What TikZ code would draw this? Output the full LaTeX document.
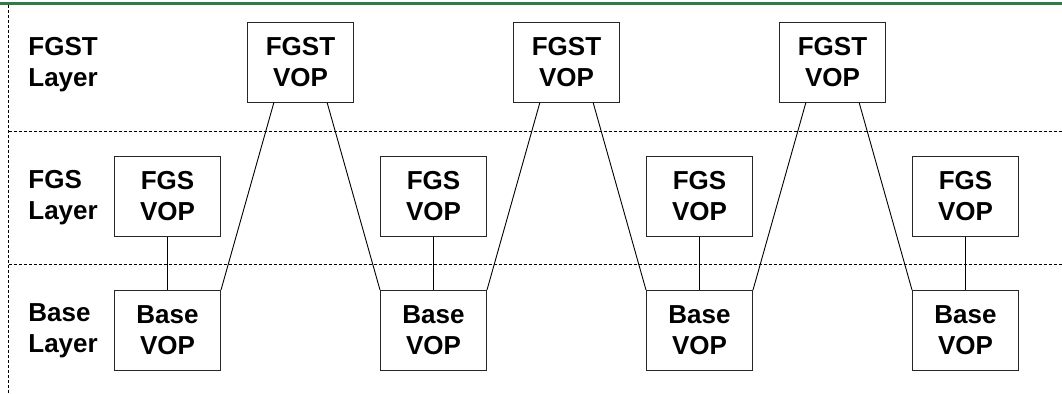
\documentclass[tikz,border=0pt]{standalone}
\usepackage{fontspec}
\setmainfont{Liberation Sans}
\usetikzlibrary{positioning,calc}
\definecolor{rulegreen}{RGB}{46,125,68}
\begin{document}
\begin{tikzpicture}[vop/.style = {draw=black!85, line width=0.5pt, fill=white, minimum width=53pt, minimum height=40pt, inner sep=0pt, align=center, font=\bfseries\fontsize{13}{15.5}\selectfont},
    layer/.style = {anchor=west, inner sep=0pt, align=left, font=\bfseries\fontsize{13}{15.5}\selectfont},
    divider/.style = {line width=0.4pt, dash pattern=on 1.5pt off 1pt},
    link/.style = {line width=0.45pt},
    node distance=26.5pt and 79.5pt]
    \useasboundingbox (0,0) rectangle (531pt,197pt);
    % rules between the layers
    \draw[rulegreen, line width=1.35pt] (0,195.4pt) -- (531pt,195.4pt);
    \draw[divider] (4.25pt,194.5pt) -- (4.25pt,0);
    \draw[divider] (4.25pt,131.5pt) -- (531pt,131.5pt);
    \draw[divider] (4.25pt,65pt) -- (531pt,65pt);
    % layer names
    \node[layer] (lt) at (14pt,164.75pt) {FGST\\Layer};
    \node[layer] (lg) at (14pt,98pt) {FGS\\Layer};
    \node[layer] (lb) at (14pt,31.75pt) {Base\\Layer};
    % base layer
    \node[vop] (b1) at (83.75pt,31.75pt) {Base\\VOP};
    \node[vop] (b2) [right=of b1] {Base\\VOP};
    \node[vop] (b3) [right=of b2] {Base\\VOP};
    \node[vop] (b4) [right=of b3] {Base\\VOP};
    % fgs layer
    \node[vop] (g1) [above=of b1] {FGS\\VOP};
    \node[vop] (g2) [above=of b2] {FGS\\VOP};
    \node[vop] (g3) [above=of b3] {FGS\\VOP};
    \node[vop] (g4) [above=of b4] {FGS\\VOP};
    % fgst layer, halfway between two fgs frames
    \path (g1.north) -- (g2.north) coordinate[midway] (m1);
    \path (g2.north) -- (g3.north) coordinate[midway] (m2);
    \path (g3.north) -- (g4.north) coordinate[midway] (m3);
    \node[vop] (t1) [above=of m1] {FGST\\VOP};
    \node[vop] (t2) [above=of m2] {FGST\\VOP};
    \node[vop] (t3) [above=of m3] {FGST\\VOP};
    \draw[link] (b1) -- (g1);
    \draw[link] (b2) -- (g2);
    \draw[link] (b3) -- (g3);
    \draw[link] (b4) -- (g4);
    \draw[link] (b1.north east) -- ($(t1.south)!.5!(t1.south west)$);
    \draw[link] (b2.north west) -- ($(t1.south)!.5!(t1.south east)$);
    \draw[link] (b2.north east) -- ($(t2.south)!.5!(t2.south west)$);
    \draw[link] (b3.north west) -- ($(t2.south)!.5!(t2.south east)$);
    \draw[link] (b3.north east) -- ($(t3.south)!.5!(t3.south west)$);
    \draw[link] (b4.north west) -- ($(t3.south)!.5!(t3.south east)$);
\end{tikzpicture}
\end{document}
